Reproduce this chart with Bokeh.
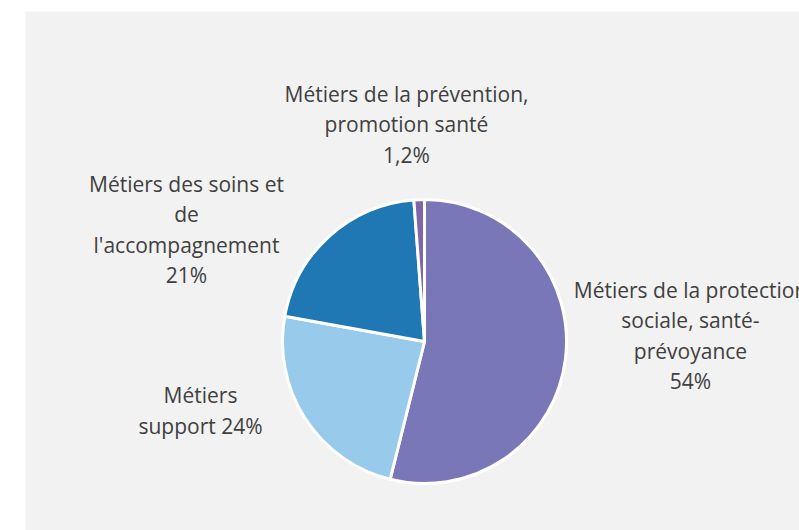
import numpy as np
from bokeh.plotting import figure
from bokeh.models import Range1d, ColumnDataSource
from bokeh.core.properties import value
from bokeh.embed import file_html
from bokeh.resources import INLINE

# Data
categories = [
    "Métiers de la protection sociale, santé-prévoyance",
    "Métiers support",
    "Métiers des soins et de l'accompagnement",
    "Métiers de la prévention, promotion santé",
]
shares = [54, 24, 21, 1.2]
pct_labels = ["54%", "24%", "21%", "1,2%"]
label_texts = [
    "Métiers de la protection\nsociale, santé-\nprévoyance\n54%",
    "Métiers\nsupport 24%",
    "Métiers des soins et\nde\nl'accompagnement\n21%",
    "Métiers de la prévention,\npromotion santé\n1,2%",
]
colors = ["#7A77B8", "#97CAEB", "#1F78B4", "#8065A8"]

# Layout (pixels)
W, H = 799, 530
frame_left, frame_top = 25, 11
cx, cy = 424 - frame_left, 341 - frame_top  # pie centre within frame
R = 142
fw, fh = W - frame_left, H - frame_top

vals = np.array(shares, dtype=float)
frac = vals / vals.sum()
cum = np.concatenate([[0], np.cumsum(frac)])
start = np.pi / 2 - 2 * np.pi * cum[1:]
end = np.pi / 2 - 2 * np.pi * cum[:-1]

src = ColumnDataSource(dict(start=start, end=end, color=colors, cat=categories))

p = figure(width=W, height=H, output_backend="svg", toolbar_location=None,
           x_range=Range1d(-cx, fw - cx), y_range=Range1d(-(fh - cy), cy),
           min_border_left=frame_left, min_border_top=frame_top,
           min_border_right=0, min_border_bottom=0)
p.axis.visible = False
p.grid.visible = False
p.outline_line_color = None
p.background_fill_color = "#F2F2F2"
p.border_fill_color = "white"

p.wedge(x=0, y=0, radius=R, start_angle="start", end_angle="end",
        fill_color="color", line_color="white", line_width=3, source=src)

# label anchor positions (layout), relative to pie centre
lx = [266, -224, -238, -18]
ly = [6, -69, 112, 217]
lsrc = ColumnDataSource(dict(x=lx, y=ly, t=label_texts))
p.text(x="x", y="y", text="t", source=lsrc, text_align="center",
       text_baseline="middle", text_font=value("Open Sans"),
       text_font_size="21px", text_color="#404040", text_line_height=1.08)

open("out.html", "w").write(file_html(p, INLINE))
